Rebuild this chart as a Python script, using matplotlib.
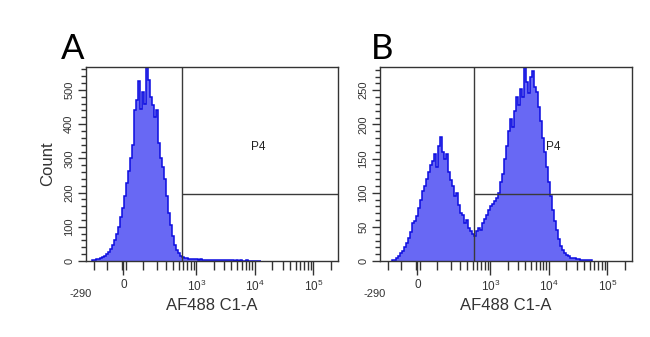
import matplotlib
matplotlib.use("Agg")
import matplotlib.pyplot as plt
import numpy as np

plt.rcParams["font.family"] = ["Liberation Sans", "DejaVu Sans"]
plt.rcParams["mathtext.default"] = "regular"

# ---- data ----
# histogram counts, one value per channel bin (bins even on the display axis)
counts_a = [2, 4, 5, 7, 10, 12, 16, 20, 27, 36, 47, 60, 78, 100, 128, 155, 190, 228,
            262, 300, 340, 440, 470, 525, 445, 495, 460, 567, 530, 480, 455, 420, 440,
            345, 300, 276, 240, 190, 140, 105, 72, 48, 33, 22, 16, 13, 10, 8, 7, 6, 6,
            5, 5, 4, 5, 4, 4, 3, 4, 3, 3, 3, 2, 3, 3, 2, 2, 3, 2, 2, 2, 1, 2, 1, 2, 1,
            1, 2, 1, 1, 1, 0, 1, 0, 1]
range_a = (-220, 13000)

counts_b = [1, 2, 4, 7, 11, 15, 21, 27, 34, 42, 56, 58, 66, 78, 90, 102, 110, 120, 130,
            140, 146, 156, 138, 168, 182, 160, 150, 157, 130, 118, 110, 95, 100, 82, 70,
            68, 56, 60, 49, 44, 40, 36, 44, 48, 46, 55, 62, 67, 74, 80, 84, 88, 92, 100,
            115, 128, 150, 168, 190, 208, 196, 220, 240, 228, 252, 240, 284, 262, 246,
            270, 278, 255, 248, 225, 205, 180, 160, 138, 115, 95, 75, 58, 45, 32, 22, 16,
            12, 9, 7, 5, 5, 4, 3, 3, 2, 2, 2, 1, 1, 1]
range_b = (-165, 55000)

panels = ["A", "B"]
ymax = [567, 284]
y_major = [100, 50]
y_minor = [20, 10]
gate_x = [560, 530]
gate_y = [196, 98]
label_pos = [(11350, 333), (11800, 167)]

x_min, x_max = -290, 262144
x_major = [0, 1e3, 1e4, 1e5]
x_major_labels = ["0", "$10^3$", "$10^4$", "$10^5$"]
x_mid = [-100, 100]
x_minor = [-200, -10, 10] + [k * m for m in (100, 1000, 10000) for k in range(2, 10)] + [200000]


# biexponential-like display transform
def fwd(x):
    x = np.asarray(x, dtype=float)
    return np.where(x >= 0, np.arcsinh(x / 115.0), np.arcsinh(x / 141.0))


def inv(y):
    y = np.asarray(y, dtype=float)
    return np.where(y >= 0, 115.0 * np.sinh(y), 141.0 * np.sinh(y))


fig = plt.figure(figsize=(6.5, 3.37), dpi=100)
fill_c = "#6868f4"
line_c = "#0c0ce0"
txt_c = "#333333"

for i, (counts, rng) in enumerate([(counts_a, range_a), (counts_b, range_b)]):
    left = [86, 380][i]
    ax = fig.add_axes([left / 650, 76 / 337, 252 / 650, 194 / 337])
    ax.set_xscale("function", functions=(fwd, inv))
    edges = inv(np.linspace(fwd(rng[0]), fwd(rng[1]), len(counts) + 1))
    ax.stairs(counts, edges, fill=True, color=fill_c, lw=0)
    ax.stairs(counts, edges, color=line_c, lw=1.1)

    # gate
    ax.axvline(gate_x[i], color="#3a3a3a", lw=1)
    ax.hlines(gate_y[i], gate_x[i], x_max, color="#3a3a3a", lw=1)
    ax.text(label_pos[i][0], label_pos[i][1], "P4", fontsize=8.5, ha="center",
            va="center", color="#222222")

    ax.set_xlim(x_min, x_max)
    ax.set_ylim(0, ymax[i])

    # x ticks
    ax.set_xticks(x_major)
    ax.set_xticklabels(x_major_labels)
    ax.set_xticks(x_mid + x_minor, minor=True)
    ax.tick_params(axis="x", which="major", length=10, width=1, pad=3,
                   labelsize=8.5, colors=txt_c)
    ax.tick_params(axis="x", which="minor", length=6.5, width=1, colors=txt_c)
    ax.annotate("-290", xy=(0, 0), xycoords="axes fraction", xytext=(-4, -24),
                textcoords="offset points", ha="center", va="center",
                fontsize=8, color=txt_c)

    # y ticks
    ax.set_yticks(np.arange(0, ymax[i], y_major[i]))
    ax.set_yticks(np.arange(0, ymax[i], y_minor[i]), minor=True)
    ax.tick_params(axis="y", which="major", length=5.5, width=1, pad=3,
                   labelsize=8, colors=txt_c)
    ax.tick_params(axis="y", which="minor", length=3.5, width=1, colors=txt_c)
    for t in ax.get_yticklabels():
        t.set_rotation(90)
        t.set_va("center")

    for s in ax.spines.values():
        s.set_color("#333333")
        s.set_linewidth(1)

    ax.set_xlabel("AF488 C1-A", fontsize=12, color=txt_c)
    ax.xaxis.set_label_coords(0.5, -0.227)
    ax.xaxis.label.set_va("center")
    if i == 0:
        ax.set_ylabel("Count", fontsize=12, color=txt_c)
        ax.yaxis.set_label_coords(-0.151, 0.5)
        ax.yaxis.label.set_va("center")

    fig.text([73, 382][i] / 650, 1 - 59 / 337, panels[i], fontsize=25,
             family=["Lato", "DejaVu Sans"], ha="center", va="baseline", color="black")

fig.savefig("out.png", dpi=100)
